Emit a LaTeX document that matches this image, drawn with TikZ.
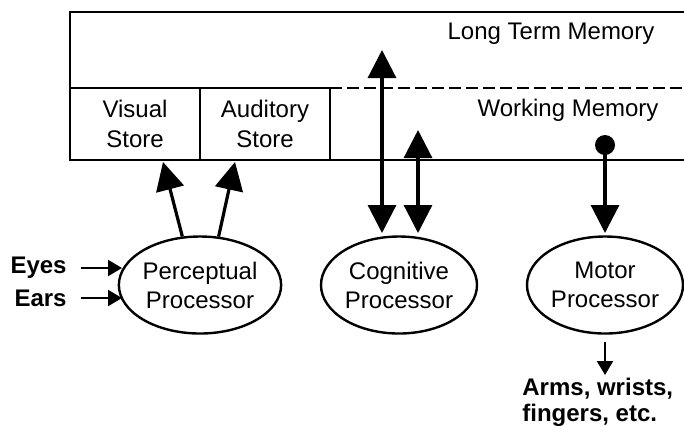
\documentclass[tikz,border=0pt]{standalone}
\usepackage{fontspec}
\setmainfont{Liberation Sans}
\usetikzlibrary{arrows.meta,shapes.geometric}
\begin{document}
\begin{tikzpicture}[x=0.5pt,y=-0.5pt,
  txt/.style={font=\fontsize{12}{14.5}\selectfont, inner sep=0pt, align=center},
  btxt/.style={font=\fontsize{12}{13}\selectfont\bfseries, inner sep=0pt},
  proc/.style={ellipse, draw, line width=1.2pt, minimum width=78pt, minimum height=48.5pt, inner sep=0pt, align=center, font=\fontsize{12}{14.5}\selectfont},
  store/.style={rectangle, draw, line width=1.1pt, minimum width=65pt, minimum height=36pt, inner sep=0pt, align=center, font=\fontsize{12}{15}\selectfont},
  big/.style={line width=1.6pt, -{Triangle[length=14pt,width=14pt]}},
  bigboth/.style={line width=1.6pt, {Triangle[length=14pt,width=14pt]}-{Triangle[length=14pt,width=14pt]}},
  small/.style={line width=1.1pt, -{Triangle[length=7pt,width=8pt]}}]
\useasboundingbox (0,0) rectangle (684,425);
% memory frame
\draw[line width=1.1pt] (686,12) -- (70,12) -- (70,160) -- (686,160);
\draw[line width=1.1pt, dash pattern=on 6pt off 2.5pt] (330,88) -- (686,88);
\node[store] (vis) at (135,124) {Visual\\Store};
\node[store] (aud) at (265,124) {Auditory\\Store};
\node[txt] (ltm) at (551,34) {Long Term Memory};
\node[txt] (wm) at (568,110) {Working Memory};
% processors
\node[proc] (perc) at (200,285) {Perceptual\\Processor};
\node[proc] (cog) at (399,285) {Cognitive\\Processor};
\node[proc] (mot) at (605,285) {Motor\\Processor};
% inputs
\node[btxt, anchor=east] (eyes) at (67,268) {Eyes};
\node[btxt, anchor=east] (ears) at (67,298) {Ears};
\coordinate (eyesT) at (122,268);
\coordinate (earsT) at (122,298);
\draw[small] (81,268) -- (eyesT);
\draw[small] (81,298) -- (earsT);
% perceptual to stores
\coordinate (visT) at (163,162);
\coordinate (audT) at (235,162);
\draw[big] (perc.110) -- (visT);
\draw[big] (perc.69) -- (audT);
% cognitive
\coordinate (ltmT) at (382,50);
\coordinate (cogA) at (382,233);
\coordinate (wmT) at (418,130);
\coordinate (cogB) at (418,233);
\draw[bigboth] (ltmT) -- (cogA);
\draw[bigboth] (wmT) -- (cogB);
% motor
\node[circle, fill, minimum size=10pt, inner sep=0pt] (dot) at (605,145) {};
\coordinate (motT) at (605,233);
\draw[big] (dot.center) -- (motT);
\coordinate (outS) at (605,342);
\coordinate (outT) at (605,375);
\draw[small] (outS) -- (outT);
\node[btxt, anchor=north west, align=left] (out) at (522,378) {Arms, wrists,\\fingers, etc.};
\end{tikzpicture}
\end{document}
